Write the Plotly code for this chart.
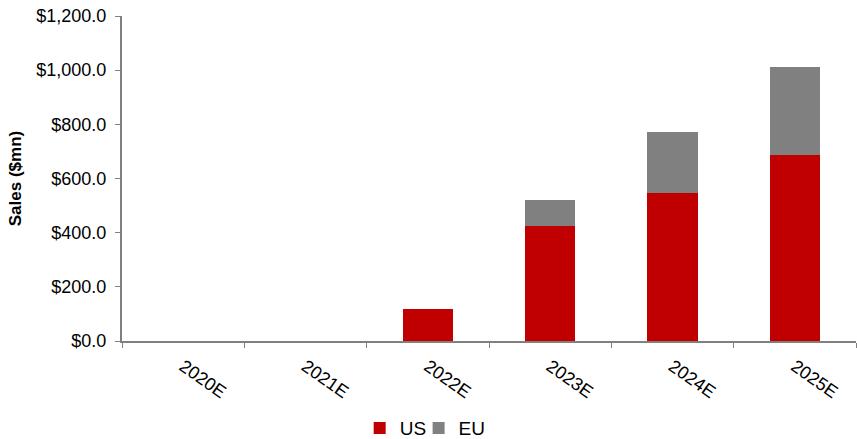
import plotly.graph_objects as go

years = ["2020E", "2021E", "2022E", "2023E", "2024E", "2025E"]
us_sales = [0, 0, 117, 426, 547, 688]
eu_sales = [0, 0, 0, 95, 225, 323]
y_ticks = [0, 200, 400, 600, 800, 1000, 1200]

font_family = "Liberation Sans, Arial, sans-serif"

fig = go.Figure()
fig.add_bar(x=years, y=us_sales, name="US", legend="legend",
            marker=dict(color="#C00000", line=dict(width=0)))
fig.add_bar(x=years, y=eu_sales, name="EU", legend="legend2",
            marker=dict(color="#808080", line=dict(width=0)))

legend_style = dict(
    orientation="h",
    xanchor="left",
    y=-0.268,
    yanchor="middle",
    font=dict(size=19),
    itemwidth=30,
    bgcolor="rgba(0,0,0,0)",
)

fig.update_layout(
    barmode="stack",
    bargap=0.59,
    width=857,
    height=439,
    margin=dict(l=122, r=1, t=16, b=98, autoexpand=False),
    plot_bgcolor="white",
    paper_bgcolor="white",
    font=dict(family=font_family, size=17, color="black"),
    showlegend=True,
    legend=dict(x=0.3238, **legend_style),
    legend2=dict(x=0.4041, **legend_style),
)

fig.update_xaxes(
    type="category",
    automargin=False,
    showline=True,
    linecolor="#808080",
    linewidth=2,
    ticks="outside",
    tickson="boundaries",
    ticklen=5,
    tickcolor="#808080",
    tickangle=35,
    ticklabelstandoff=6,
    tickfont=dict(size=18),
    showgrid=False,
)

fig.update_yaxes(
    automargin=False,
    range=[0, 1200],
    tickvals=y_ticks,
    ticktext=[f"${v:,.1f}" for v in y_ticks],
    showline=True,
    linecolor="#808080",
    linewidth=2,
    ticks="outside",
    ticklen=5,
    tickcolor="#808080",
    ticklabelstandoff=5,
    showgrid=False,
    zeroline=False,
    tickfont=dict(size=18),
    title=dict(text="<b>Sales ($mn)</b>", font=dict(size=17), standoff=10),
)

fig.write_html("out.html")
